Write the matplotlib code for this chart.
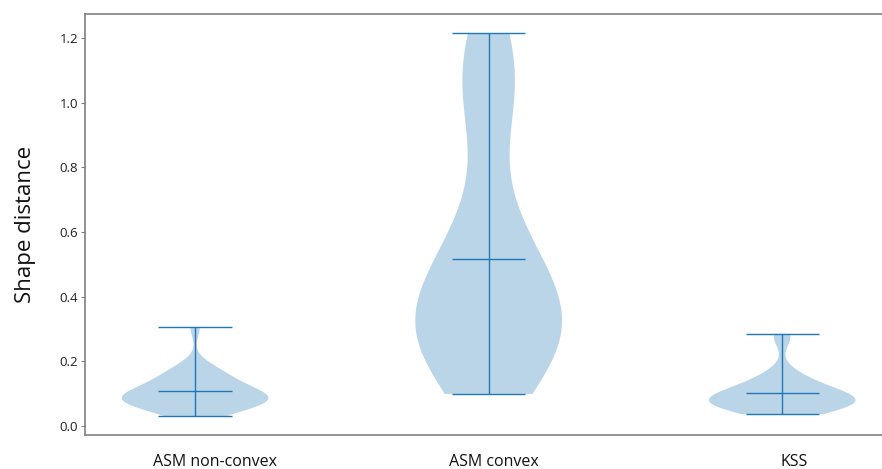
import matplotlib
matplotlib.use("Agg")
import matplotlib.pyplot as plt
from matplotlib.transforms import ScaledTranslation

plt.rcParams['font.family'] = ['Open Sans', 'DejaVu Sans']

# Shape distance per method
categories = ["ASM non-convex", "ASM convex", "KSS"]

asm_nonconvex = [0.030, 0.040, 0.048, 0.055, 0.060, 0.065, 0.070, 0.073, 0.077,
                 0.080, 0.083, 0.086, 0.089, 0.092, 0.096, 0.100, 0.105, 0.110,
                 0.116, 0.122, 0.130, 0.138, 0.146, 0.155, 0.165, 0.175, 0.190,
                 0.305]

asm_convex = [0.099, 0.15, 0.18, 0.21, 0.24, 0.26, 0.27, 0.28, 0.30, 0.31,
              0.33, 0.35, 0.37, 0.40, 0.43, 0.46, 0.50, 0.55, 0.60, 0.66,
              0.95, 1.02, 1.06, 1.10, 1.15, 1.215]

kss = [0.037, 0.045, 0.050, 0.055, 0.058, 0.062, 0.065, 0.068, 0.071, 0.074,
       0.077, 0.080, 0.083, 0.086, 0.090, 0.094, 0.098, 0.103, 0.108, 0.114,
       0.121, 0.130, 0.140, 0.152, 0.168, 0.270, 0.285]

data = [asm_nonconvex, asm_convex, kss]

fig = plt.figure(figsize=(8.82, 4.69), dpi=100)
ax = fig.add_axes([0.0964, 0.0725, 0.9036, 0.8975])

parts = ax.violinplot(data, positions=[1, 2, 3], showmeans=True)
for key in ("cmeans", "cmins", "cmaxes", "cbars"):
    parts[key].set_linewidth(1.0)

ax.set_xlim(0.625, 3.34)
ax.set_ylim(-0.028, 1.274)
ax.set_xticks([1, 2, 3])
ax.set_xticklabels(categories, fontsize=11.5, color="#111111")
ax.tick_params(axis="x", length=0, pad=14)
# category captions sit slightly right of their violins
for lbl, dx in zip(ax.get_xticklabels(), [20, 5, 12]):
    lbl.set_transform(lbl.get_transform() +
                      ScaledTranslation(dx / 100, 0, fig.dpi_scale_trans))

ax.set_yticks([0.0, 0.2, 0.4, 0.6, 0.8, 1.0, 1.2])
ax.set_yticklabels(["0.0", "0.2", "0.4", "0.6", "0.8", "1.0", "1.2"])
ax.tick_params(axis="y", labelsize=9.5, length=3, width=0.8, color="#808080",
               labelcolor="#222222", pad=2)
ax.set_ylabel("Shape distance", fontsize=16, color="#111111", labelpad=17)

for side in ("left", "top", "bottom"):
    ax.spines[side].set_color("#808080")
    ax.spines[side].set_linewidth(1.2)
ax.spines["right"].set_visible(False)

fig.savefig("out.png", dpi=100)
